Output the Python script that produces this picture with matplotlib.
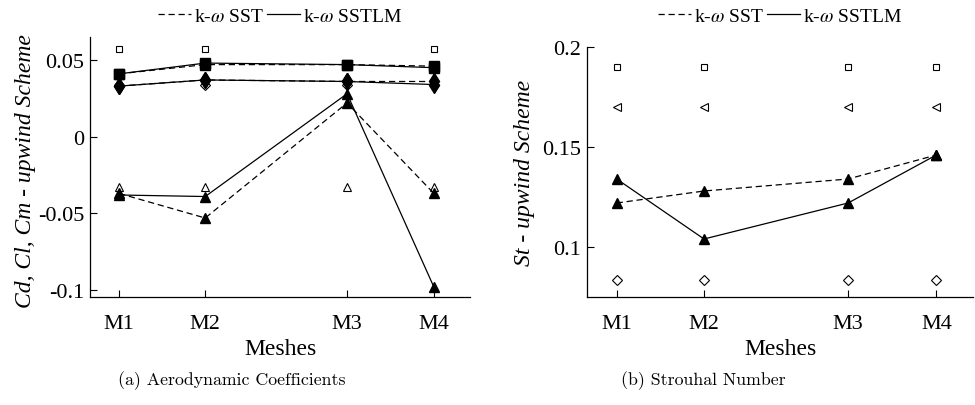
import numpy as np
import matplotlib
matplotlib.use("Agg")
import matplotlib.pyplot as plt
from matplotlib.lines import Line2D

plt.rcParams['font.family'] = 'Liberation Serif'
plt.rcParams['mathtext.fontset'] = 'stix'

# mesh positions on the x axis
meshes = ['M1', 'M2', 'M3', 'M4']
mesh_x = [1.0, 2.0, 3.65, 4.66]

# (a) aerodynamic coefficients
cd_sst = [0.041, 0.047, 0.047, 0.046]
cd_sstlm = [0.041, 0.048, 0.047, 0.045]
cm_sst = [0.033, 0.037, 0.036, 0.036]
cm_sstlm = [0.033, 0.037, 0.036, 0.034]
cl_sst = [-0.037, -0.053, 0.022, -0.037]
cl_sstlm = [-0.038, -0.039, 0.028, -0.098]
# reference values (open markers)
cd_ref = [0.057, 0.057, np.nan, 0.057]
cm_ref = [0.034, 0.034, 0.034, 0.034]
cl_ref = [-0.033, -0.033, -0.033, -0.033]

# (b) Strouhal number
st_sst = [0.122, 0.128, 0.134, 0.146]
st_sstlm = [0.134, 0.104, 0.122, 0.146]
st_ref1 = [0.19, 0.19, 0.19, 0.19]
st_ref2 = [0.17, 0.17, 0.17, 0.17]
st_ref3 = [0.0835, 0.0835, 0.0835, 0.0835]

W, H = 975, 406
fig = plt.figure(figsize=(W / 100, H / 100), dpi=100)

ax1 = fig.add_axes([90 / W, 1 - 298 / H, 380 / W, 260 / H])
ax2 = fig.add_axes([587 / W, 1 - 298 / H, 386 / W, 250 / H])

dash = (0, (5, 3))
ms_f = 7
ms_o = 5

def style_axes(ax):
    for s in ['top', 'right']:
        ax.spines[s].set_visible(False)
    for s in ['left', 'bottom']:
        ax.spines[s].set_linewidth(0.9)
    ax.tick_params(direction='in', length=5, width=0.8, labelsize=16)
    ax.tick_params(axis='x', pad=12)
    ax.tick_params(axis='y', pad=4)
    ax.set_xticks(mesh_x)
    ax.set_xticklabels(meshes)
    ax.set_xlim(0.66, 5.08)

# reference markers first (drawn beneath)
ax1.plot(mesh_x, cd_ref, ls='none', marker='s', mfc='white', mec='black', ms=ms_o, mew=0.8)
ax1.plot(mesh_x, cm_ref, ls='none', marker='D', mfc='white', mec='black', ms=ms_o, mew=0.8)
ax1.plot(mesh_x, cl_ref, ls='none', marker='^', mfc='white', mec='black', ms=ms_o + 1, mew=0.8)

for vals, mk, ms in [(cd_sst, 's', ms_f), (cm_sst, 'd', ms_f + 1), (cl_sst, '^', ms_f)]:
    ax1.plot(mesh_x, vals, color='black', lw=0.9, ls=dash, marker=mk, ms=ms)
for vals, mk, ms in [(cd_sstlm, 's', ms_f), (cm_sstlm, 'd', ms_f + 1), (cl_sstlm, '^', ms_f)]:
    ax1.plot(mesh_x, vals, color='black', lw=0.9, ls='-', marker=mk, ms=ms)

ax1.set_ylim(-0.1045, 0.065)
ax1.set_yticks([-0.1, -0.05, 0, 0.05])
ax1.set_yticklabels(['-0.1', '-0.05', '0', '0.05'])
style_axes(ax1)
ax1.set_ylabel('Cd, Cl, Cm - upwind Scheme', fontsize=17, style='italic')
ax1.yaxis.set_label_coords(-0.142, 0.49)
ax1.set_xlabel('Meshes', fontsize=17)
ax1.xaxis.set_label_coords(0.5, -0.158)

ax2.plot(mesh_x, st_ref1, ls='none', marker='s', mfc='white', mec='black', ms=ms_o, mew=0.8)
ax2.plot(mesh_x, st_ref2, ls='none', marker='<', mfc='white', mec='black', ms=ms_o + 1, mew=0.8)
ax2.plot(mesh_x, st_ref3, ls='none', marker='D', mfc='white', mec='black', ms=ms_o, mew=0.8)
ax2.plot(mesh_x, st_sst, color='black', lw=0.9, ls=dash, marker='^', ms=ms_f)
ax2.plot(mesh_x, st_sstlm, color='black', lw=0.9, ls='-', marker='^', ms=ms_f)

ax2.set_ylim(0.075, 0.2)
ax2.set_yticks([0.1, 0.15, 0.2])
ax2.set_yticklabels(['0.1', '0.15', '0.2'])
style_axes(ax2)
ax2.set_ylabel('St - upwind Scheme', fontsize=17, style='italic')
ax2.yaxis.set_label_coords(-0.135, 0.5)
ax2.set_xlabel('Meshes', fontsize=17)
ax2.xaxis.set_label_coords(0.5, -0.164)

handles = [Line2D([], [], color='black', lw=0.9, ls=dash),
           Line2D([], [], color='black', lw=0.9, ls='-')]
labels = [r'k-$\omega$ SST', r'k-$\omega$ SSTLM']
for cx in [280 / W, 780 / W]:
    fig.legend(handles, labels, loc='center', bbox_to_anchor=(cx, 1 - 17 / H),
               ncol=2, frameon=False, fontsize=14, handlelength=1.7,
               handletextpad=0.15, columnspacing=0.2, borderpad=0)

fig.text(232 / W, 1 - 381 / H, '(a) Aerodynamic Coefficients', ha='center', va='center',
         fontsize=12.8, family='cmr10')
fig.text(703 / W, 1 - 381 / H, '(b) Strouhal Number', ha='center', va='center',
         fontsize=12.8, family='cmr10')

fig.savefig('out.png', dpi=100)
